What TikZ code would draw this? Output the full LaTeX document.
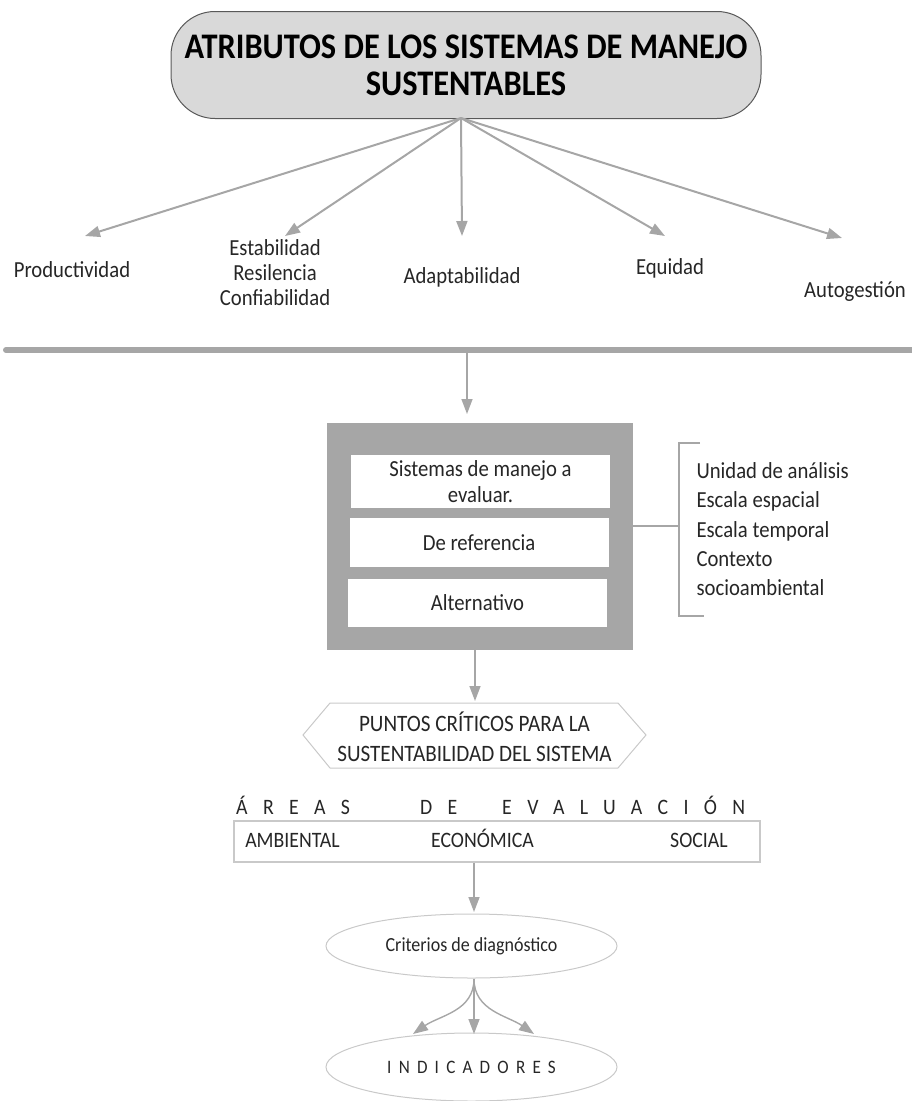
\documentclass[tikz,border=0pt]{standalone}
\usepackage{fontspec}
\setmainfont[FakeStretch=0.9]{Carlito}
\usetikzlibrary{arrows.meta,shapes.geometric,positioning}
\definecolor{lineagris}{HTML}{A6A6A6}
\definecolor{titulogris}{HTML}{D9D9D9}
\definecolor{bordegris}{HTML}{595959}
\definecolor{clarogris}{HTML}{C9C9C9}
\definecolor{textonegro}{HTML}{262626}
\tikzset{
  flecha/.style={draw=lineagris, line width=2pt, -{Triangle[width=11pt,length=15pt]}},
  flechafina/.style={draw=lineagris, line width=1.4pt, -{Triangle[width=11pt,length=15pt]}},
  atributo/.style={font=\fontsize{23}{25}\selectfont, align=center, text=textonegro},
  cajablanca/.style={fill=white, minimum width=259pt, font=\fontsize{23}{26}\selectfont, align=center, text=textonegro, inner sep=0pt},
  lista/.style={font=\fontsize{23}{29.3}\selectfont, align=left, text=textonegro},
  area/.style={font=\fontsize{22}{24}\selectfont, text=textonegro},
  elipse/.style={ellipse, draw=clarogris, line width=1pt, minimum width=291pt, text=textonegro},
}
\begin{document}
\begin{tikzpicture}[x=1pt,y=-1pt]
\useasboundingbox (0,0) rectangle (912,1101);
% titulo
\node[draw=bordegris, fill=titulogris, line width=1pt, rounded corners=44pt,
  minimum width=590pt, minimum height=107pt, align=center,
  font=\bfseries\fontsize{36}{37}\selectfont] (titulo) at (466,65)
  {ATRIBUTOS DE LOS SISTEMAS DE MANEJO\\SUSTENTABLES};
\coordinate (raiz) at (461,118);
% atributos
\node[atributo] (prod) at (72,270) {Productividad};
\node[atributo] (estab) at (275,273) {Estabilidad\\Resilencia\\Confiabilidad};
\node[atributo] (adapt) at (462,277) {Adaptabilidad};
\node[atributo] (equi) at (670,268) {Equidad};
\node[atributo] (auto) at (855,292) {Autogestión};
\coordinate (pprod) at (85,236);
\coordinate (pestab) at (285,236);
\coordinate (padapt) at (462,236);
\coordinate (pequi) at (665,236);
\coordinate (pauto) at (842,238);
\foreach \p in {pprod,pestab,padapt,pequi,pauto}
  \draw[flecha] (raiz) -- (\p);
% separador
\draw[lineagris, line width=6pt, line cap=round] (6,350) -- (912,350);
% sistemas
\node[fill=lineagris, minimum width=306pt, minimum height=227pt] (sistemas) at (480,536.5) {};
\node[cajablanca, minimum height=53pt] (evaluar) at (480.5,481.5) {Sistemas de manejo a\\evaluar.};
\node[cajablanca, minimum height=49pt] (referencia) at (479,542.5) {De referencia};
\node[cajablanca, minimum height=48pt] (alternativo) at (477.5,603) {Alternativo};
\draw[flechafina] (467,352) -- (467,414);
% corchete
\coordinate (corchete) at (679,526);
\draw[lineagris, line width=1.4pt] (sistemas.east |- corchete) -- (corchete);
\draw[lineagris, line width=1.4pt] (700,443) -- (679,443) -- (679,616) -- (704,616);
\node[lista, anchor=north west] (escala) at (693,459)
  {Unidad de análisis\\Escala espacial\\Escala temporal\\Contexto\\socioambiental};
% puntos criticos
\draw[clarogris, line width=1pt] (303,735) -- (330,703) -- (618,703) -- (646,735)
  -- (618,768) -- (330,768) -- cycle;
\node[font=\fontsize{23.5}{30}\selectfont, align=center, text=textonegro] (puntos) at (474.5,737)
  {PUNTOS CRÍTICOS PARA LA\\SUSTENTABILIDAD DEL SISTEMA};
\draw[flechafina] (sistemas.south -| 475,0) -- (475,701);
% areas
\node[area, anchor=base west, inner sep=0pt] (titareas) at (236,814)
  {\addfontfeature{LetterSpace=70}ÁREAS\hspace{70pt}DE\hspace{45pt}EVALUACIÓN};
\node[draw=clarogris, line width=1.6pt, minimum width=526pt, minimum height=41pt] (areas) at (497,841.5) {};
\node[area, anchor=base] (amb) at (292.5,847) {AMBIENTAL};
\node[area, anchor=base] (eco) at (482.5,847) {ECONÓMICA};
\node[area, anchor=base] (soc) at (699,847) {SOCIAL};
\draw[flechafina] (areas.south -| 474,0) -- (474,912);
% criterios e indicadores
\node[elipse, minimum height=64pt, font=\fontsize{20}{22}\selectfont] (criterios) at (471.5,946) {Criterios de diagnóstico};
\node[elipse, minimum height=68pt, font=\fontsize{19}{22}\selectfont] (indicadores) at (471.5,1067)
  {\addfontfeature{LetterSpace=38}INDICADORES};
\coordinate (rama) at (474,979);
\draw[flechafina] (rama) to[out=-90, in=35] (413,1034);
\draw[flechafina] (rama) -- (474,1034);
\draw[flechafina] (rama) to[out=-90, in=145] (534,1034);
\end{tikzpicture}
\end{document}
